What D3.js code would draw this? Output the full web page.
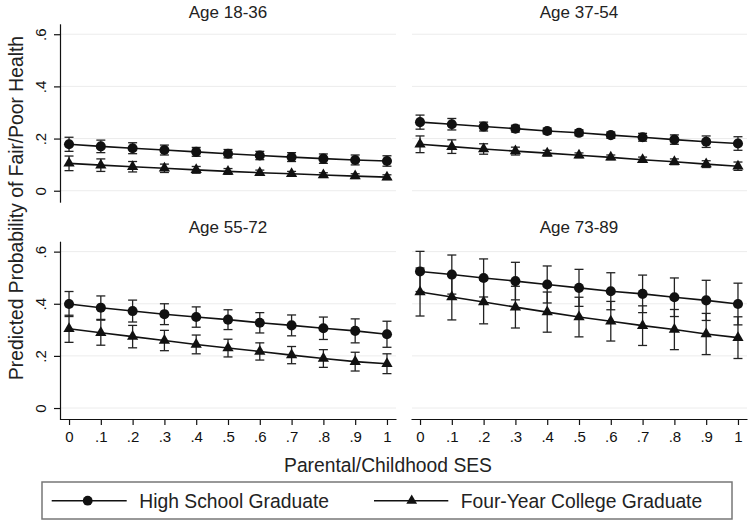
<!DOCTYPE html>
<html>
<head>
<meta charset="utf-8">
<script src="https://cdn.jsdelivr.net/npm/d3@7"></script>
<style>
  html, body { margin: 0; padding: 0; background: #fff; }
  svg { display: block; font-family: "Liberation Sans", Arial, Helvetica, sans-serif; }
</style>
</head>
<body>
<svg id="chart" width="750" height="524"></svg>
<script>
// ---- data ----
const sesValues = [0, 0.1, 0.2, 0.3, 0.4, 0.5, 0.6, 0.7, 0.8, 0.9, 1];
const xTickLabels = ["0", ".1", ".2", ".3", ".4", ".5", ".6", ".7", ".8", ".9", "1"];
const yTickValues = [0, 0.2, 0.4, 0.6];
const yTickLabels = ["0", ".2", ".4", ".6"];
const panelTitles = ["Age 18-36", "Age 37-54", "Age 55-72", "Age 73-89"];
const seriesNames = ["High School Graduate", "Four-Year College Graduate"];

// Age 18-36
const hs1836 = [0.178, 0.170, 0.163, 0.156, 0.149, 0.142, 0.135, 0.129, 0.123, 0.118, 0.114];
const hs1836ci = [0.027, 0.024, 0.021, 0.019, 0.017, 0.016, 0.016, 0.017, 0.018, 0.019, 0.020];
const col1836 = [0.105, 0.098, 0.092, 0.086, 0.080, 0.074, 0.069, 0.065, 0.060, 0.056, 0.052];
const col1836ci = [0.028, 0.024, 0.020, 0.016, 0.013, 0.011, 0.010, 0.009, 0.009, 0.009, 0.009];
// Age 37-54
const hs3754 = [0.263, 0.255, 0.246, 0.238, 0.229, 0.222, 0.213, 0.205, 0.196, 0.188, 0.181];
const hs3754ci = [0.027, 0.022, 0.017, 0.013, 0.011, 0.011, 0.012, 0.015, 0.018, 0.022, 0.026];
const col3754 = [0.178, 0.169, 0.160, 0.152, 0.144, 0.136, 0.128, 0.119, 0.111, 0.102, 0.094];
const col3754ci = [0.032, 0.026, 0.020, 0.015, 0.011, 0.009, 0.009, 0.010, 0.011, 0.013, 0.016];
// Age 55-72
const hs5572 = [0.399, 0.385, 0.372, 0.360, 0.349, 0.339, 0.327, 0.317, 0.306, 0.296, 0.283];
const hs5572ci = [0.048, 0.045, 0.042, 0.040, 0.039, 0.038, 0.039, 0.040, 0.043, 0.046, 0.050];
const col5572 = [0.304, 0.289, 0.274, 0.259, 0.244, 0.230, 0.217, 0.203, 0.190, 0.178, 0.170];
const col5572ci = [0.052, 0.048, 0.043, 0.039, 0.036, 0.034, 0.033, 0.033, 0.034, 0.036, 0.038];
// Age 73-89
const hs7389 = [0.524, 0.512, 0.499, 0.487, 0.474, 0.461, 0.448, 0.438, 0.425, 0.413, 0.399];
const hs7389ci = [0.077, 0.075, 0.073, 0.072, 0.071, 0.071, 0.071, 0.072, 0.074, 0.077, 0.080];
const col7389 = [0.445, 0.426, 0.407, 0.387, 0.368, 0.349, 0.333, 0.316, 0.301, 0.284, 0.270];
const col7389ci = [0.092, 0.088, 0.084, 0.080, 0.077, 0.076, 0.076, 0.076, 0.077, 0.079, 0.080];

const panelData = [
  { title: panelTitles[0], hs: hs1836, hsci: hs1836ci, col: col1836, colci: col1836ci },
  { title: panelTitles[1], hs: hs3754, hsci: hs3754ci, col: col3754, colci: col3754ci },
  { title: panelTitles[2], hs: hs5572, hsci: hs5572ci, col: col5572, colci: col5572ci },
  { title: panelTitles[3], hs: hs7389, hsci: hs7389ci, col: col7389, colci: col7389ci }
];

// ---- layout ----
const svg = d3.select("#chart");
const colX = [[60, 396], [411, 747]];
const rowY = [[202.2, 23.8], [419.5, 241.2]];
const xDomain = [-0.0284, 1.0284];
const yDomain = [-0.044, 0.64];
const ink = "#111";

const circleSym = d3.symbol().type(d3.symbolCircle).size(80);
const triSym = d3.symbol().type(d3.symbolTriangle).size(55);

panelData.forEach((p, i) => {
  const c = i % 2, r = Math.floor(i / 2);
  const x = d3.scaleLinear().domain(xDomain).range(colX[c]);
  const y = d3.scaleLinear().domain(yDomain).range(rowY[r]);
  const g = svg.append("g");

  // gridlines
  g.selectAll(".grid").data(yTickValues).join("line")
    .attr("x1", colX[c][0] + 1).attr("x2", colX[c][1])
    .attr("y1", d => y(d)).attr("y2", d => y(d))
    .attr("stroke", "#ececec").attr("stroke-width", 1);

  // y axis (left column only)
  if (c === 0) {
    const ya = g.append("g").attr("transform", `translate(${colX[c][0]},0)`)
      .call(d3.axisLeft(y).tickValues(yTickValues).tickSize(6).tickSizeOuter(0)
        .tickFormat((d, k) => yTickLabels[k]));
    ya.select(".domain").attr("stroke", ink).attr("stroke-width", 1.2);
    ya.selectAll(".tick line").attr("stroke", ink).attr("stroke-width", 1.2);
    ya.selectAll(".tick text")
      .attr("x", 0).attr("dy", 0)
      .attr("transform", "translate(-14.3,0) rotate(-90)")
      .attr("text-anchor", "middle")
      .attr("font-size", 15).attr("fill", ink)
      .attr("font-family", "Liberation Sans, Arial, sans-serif");
  }
  // x axis (bottom row only)
  if (r === 1) {
    const xa = g.append("g").attr("transform", `translate(0,${rowY[r][0] - 0.5})`)
      .call(d3.axisBottom(x).tickValues(sesValues).tickSize(6).tickSizeOuter(0).tickPadding(6)
        .tickFormat((d, k) => xTickLabels[k]));
    xa.select(".domain").attr("stroke", ink).attr("stroke-width", 1.2);
    xa.selectAll(".tick line").attr("stroke", ink).attr("stroke-width", 1.2);
    xa.selectAll(".tick text").attr("font-size", 15).attr("fill", ink)
      .attr("font-family", "Liberation Sans, Arial, sans-serif");
  }

  // panel title
  g.append("text")
    .attr("x", (colX[c][0] + colX[c][1]) / 2)
    .attr("y", r === 0 ? 18.3 : 232.5)
    .attr("text-anchor", "middle").attr("font-size", 17).attr("fill", "#222")
    .text(p.title);

  const series = [
    { v: p.hs, ci: p.hsci, sym: circleSym },
    { v: p.col, ci: p.colci, sym: triSym }
  ];
  const line = d3.line().x((d, k) => x(sesValues[k])).y(d => y(d));

  series.forEach(s => {
    const eb = g.append("g").attr("stroke", "#222").attr("stroke-width", 1.3).attr("fill", "none");
    s.v.forEach((v, k) => {
      const xx = x(sesValues[k]);
      const lo = y(v - s.ci[k]), hi = y(v + s.ci[k]);
      eb.append("line").attr("x1", xx).attr("x2", xx).attr("y1", lo).attr("y2", hi);
      eb.append("line").attr("x1", xx - 4.5).attr("x2", xx + 4.5).attr("y1", lo).attr("y2", lo);
      eb.append("line").attr("x1", xx - 4.5).attr("x2", xx + 4.5).attr("y1", hi).attr("y2", hi);
    });
  });
  series.forEach(s => {
    g.append("path").datum(s.v).attr("d", line)
      .attr("fill", "none").attr("stroke", ink).attr("stroke-width", 1.6);
    g.selectAll(null).data(s.v).join("path")
      .attr("d", s.sym)
      .attr("transform", (d, k) => `translate(${x(sesValues[k])},${y(d)})`)
      .attr("fill", ink);
  });
});

// axis titles
svg.append("text")
  .attr("transform", "translate(23,208) rotate(-90)")
  .attr("text-anchor", "middle").attr("font-size", 19.3).attr("fill", "#222")
  .text("Predicted Probability of Fair/Poor Health");
svg.append("text")
  .attr("x", 388).attr("y", 471.5)
  .attr("text-anchor", "middle").attr("font-size", 19.3).attr("fill", "#222")
  .text("Parental/Childhood SES");

// legend
const lg = svg.append("g");
lg.append("rect").attr("x", 42).attr("y", 482).attr("width", 690).attr("height", 37)
  .attr("fill", "#fff").attr("stroke", "#777").attr("stroke-width", 1.5);
const legendItems = [
  { name: seriesNames[0], x1: 51.7, x2: 126.7, mx: 87.7, tx: 139.3, sym: d3.symbol().type(d3.symbolCircle).size(75) },
  { name: seriesNames[1], x1: 374, x2: 448.3, mx: 411.7, tx: 460.7, sym: d3.symbol().type(d3.symbolTriangle).size(50) }
];
legendItems.forEach(it => {
  lg.append("line").attr("x1", it.x1).attr("x2", it.x2).attr("y1", 500.7).attr("y2", 500.7)
    .attr("stroke", ink).attr("stroke-width", 1.6);
  lg.append("path").attr("d", it.sym).attr("transform", `translate(${it.mx},500.7)`).attr("fill", ink);
  lg.append("text").attr("x", it.tx).attr("y", 507.6).attr("font-size", 19.3).attr("fill", "#222")
    .text(it.name);
});
</script>
</body>
</html>
